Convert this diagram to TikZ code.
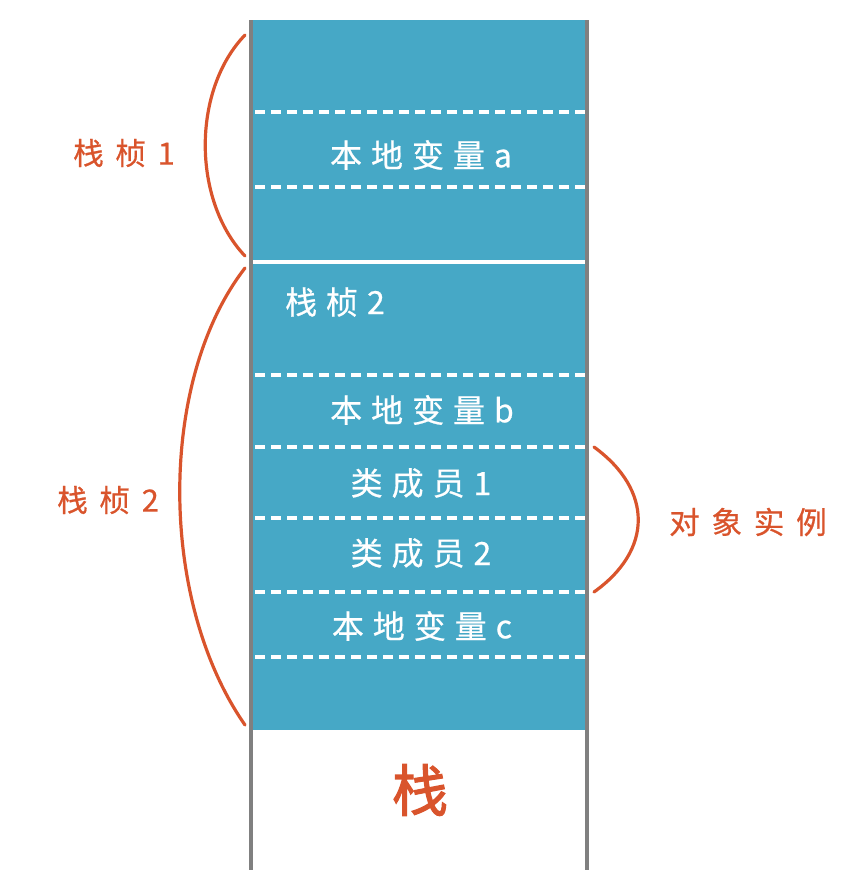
\documentclass[tikz,border=0pt]{standalone}
\usepackage{fontspec}
\newfontfamily\cjkbig[FakeBold=2]{Noto Sans CJK SC}
\newfontfamily\cjkls[LetterSpace=28, FakeBold=0.6]{Noto Sans CJK SC}
\newfontfamily\cjkwide[LetterSpace=38, FakeBold=0.6]{Noto Sans CJK SC}
\definecolor{stackblue}{HTML}{46A8C6}
\definecolor{braceorange}{HTML}{D9542C}
\definecolor{sidegrey}{HTML}{808080}
\tikzset{
  x=0.75pt, y=-0.75pt,
  cell/.style={text=white, font=\cjkls\fontsize{24}{28}\selectfont, inner sep=0pt},
  sidelabel/.style={text=braceorange, font=\cjkwide\fontsize{23}{27}\selectfont, inner sep=0pt},
  sep/.style={white, line width=2.4pt, dash pattern=on 7.5pt off 4.5pt},
  bracecurve/.style={braceorange, line width=2.4pt, line cap=round},
  side/.style={sidegrey, line width=3pt}
}
\begin{document}
\begin{tikzpicture}
\useasboundingbox (0,0) rectangle (866,896);
% blue stack area
\fill[stackblue] (251,20) rectangle (587,730);
\draw[white, line width=2.4pt] (251,262) -- (587,262);
% dashed separators
\foreach \yy in {112,187,375,447,518,592,657}
  \draw[sep] (255,\yy) -- (587,\yy);
% side walls
\coordinate (lt) at (251,20); \coordinate (lb) at (251,870);
\coordinate (rt) at (587,20); \coordinate (rb) at (587,870);
\draw[side] (lt) -- (lb);
\draw[side] (rt) -- (rb);
% cell texts
\node[cell] (va) at (421,155) {本地变量a};
\node[cell] (f2in) at (335,302) {栈桢2};
\node[cell] (vb) at (422,410) {本地变量b};
\node[cell] (m1) at (421,483) {类成员1};
\node[cell] (m2) at (421,553) {类成员2};
\node[cell] (vc) at (422,626) {本地变量c};
\node[text=braceorange, font=\cjkbig\fontsize{42}{48}\selectfont, inner sep=0pt] (stk) at (420,790) {栈};
% side labels
\node[sidelabel] (f1) at (124,153) {栈桢1};
\node[sidelabel] (f2) at (108,500) {栈桢2};
\node[sidelabel] (obj) at (748,522) {对象实例};
% braces
\coordinate (b1a) at (245,35); \coordinate (b1b) at (245,256);
\draw[bracecurve] (b1a) .. controls (192,90) and (192,200) .. (b1b);
\coordinate (b2a) at (245,268); \coordinate (b2b) at (245,725);
\draw[bracecurve] (b2a) .. controls (158,380) and (158,600) .. (b2b);
\coordinate (b3a) at (594,447); \coordinate (b3b) at (594,592);
\draw[bracecurve] (b3a) .. controls (653,490) and (653,550) .. (b3b);
\end{tikzpicture}
\end{document}
